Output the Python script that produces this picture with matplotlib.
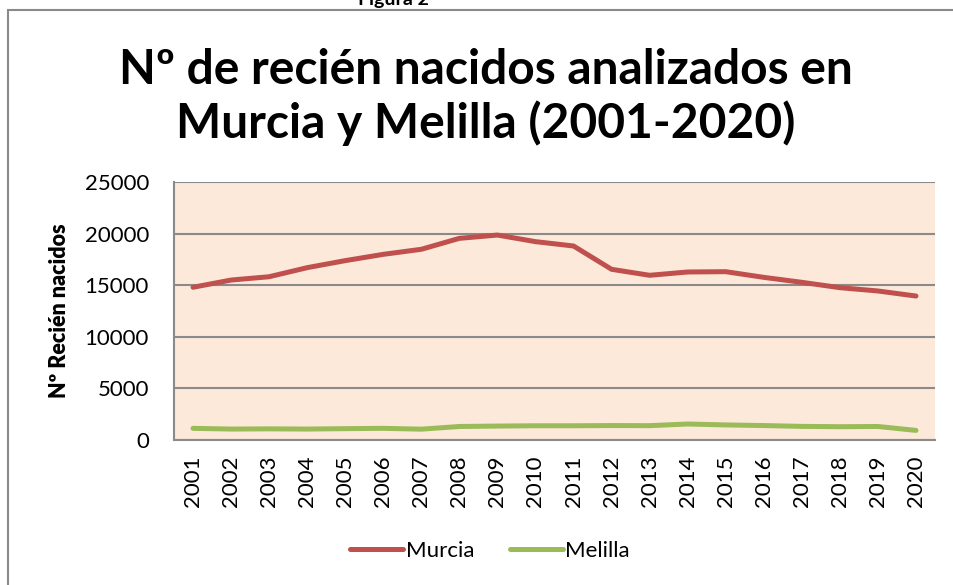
import matplotlib.pyplot as plt
from matplotlib.patches import Rectangle

years = [str(y) for y in range(2001, 2021)]
murcia = [14800, 15500, 15820, 16700, 17380, 17990, 18480, 19540, 19860, 19220,
          18800, 16540, 15960, 16280, 16310, 15760, 15280, 14760, 14440, 13950]
melilla = [1130, 1060, 1080, 1060, 1100, 1130, 1050, 1310, 1350, 1380,
           1380, 1400, 1390, 1550, 1460, 1400, 1320, 1290, 1310, 930]
yticks = [0, 5000, 10000, 15000, 20000, 25000]

plt.rcParams['font.family'] = ['Lato', 'DejaVu Sans']

fig = plt.figure(figsize=(9.54, 5.85), dpi=100)
ax = fig.add_axes([174/954, 1 - 440/585, (935 - 174)/954, (440 - 182)/585])
ax.set_facecolor('#fce9da')

x = range(len(years))
ax.plot(x, murcia, color='#c0504d', lw=3.6, solid_capstyle='round', label='Murcia')
ax.plot(x, melilla, color='#9bbb59', lw=3.6, solid_capstyle='round', label='Melilla')

ax.set_xlim(-0.5, len(years) - 0.5)
ax.set_ylim(0, 25000)
ax.set_yticks(yticks)
ax.set_yticklabels([str(v) for v in yticks], fontsize=16)
ax.set_xticks(list(x))
ax.set_xticklabels(years, rotation=90, fontsize=16)
ax.tick_params(length=0)
ax.tick_params(axis='y', pad=18)
ax.tick_params(axis='x', pad=11)
ax.grid(axis='y', color='#8a8a8a', lw=1.5)
ax.set_axisbelow(True)
for s in ['top', 'right']:
    ax.spines[s].set_visible(False)
for s in ['left', 'bottom']:
    ax.spines[s].set_color('#8a8a8a')
    ax.spines[s].set_linewidth(1.5)

ax.set_ylabel('Nº Recién nacidos', fontsize=15.5, fontweight='heavy')
ax.yaxis.set_label_coords((70 - 174)/761, 0.5)

fig.text(486/954, 1 - 97/585, 'Nº de recién nacidos analizados en\nMurcia y Melilla (2001-2020)',
         ha='center', va='center', fontsize=34.5, fontweight='bold', linespacing=1.22)
fig.text(393/954, 1.0, 'Figura 2', ha='center', va='center', fontsize=14, fontweight='bold')

fig.patches.append(Rectangle((8/954, -0.1), 2, 1 - 10/585 + 0.1, transform=fig.transFigure,
                             fill=False, edgecolor='#8a8a8a', lw=1.5))

fig.legend(loc='center', bbox_to_anchor=(490/954, 1 - 551/585), ncol=2, frameon=False,
           fontsize=16, handlelength=2.4, handletextpad=0.1, columnspacing=1.6)

fig.savefig('out.png', dpi=100)
